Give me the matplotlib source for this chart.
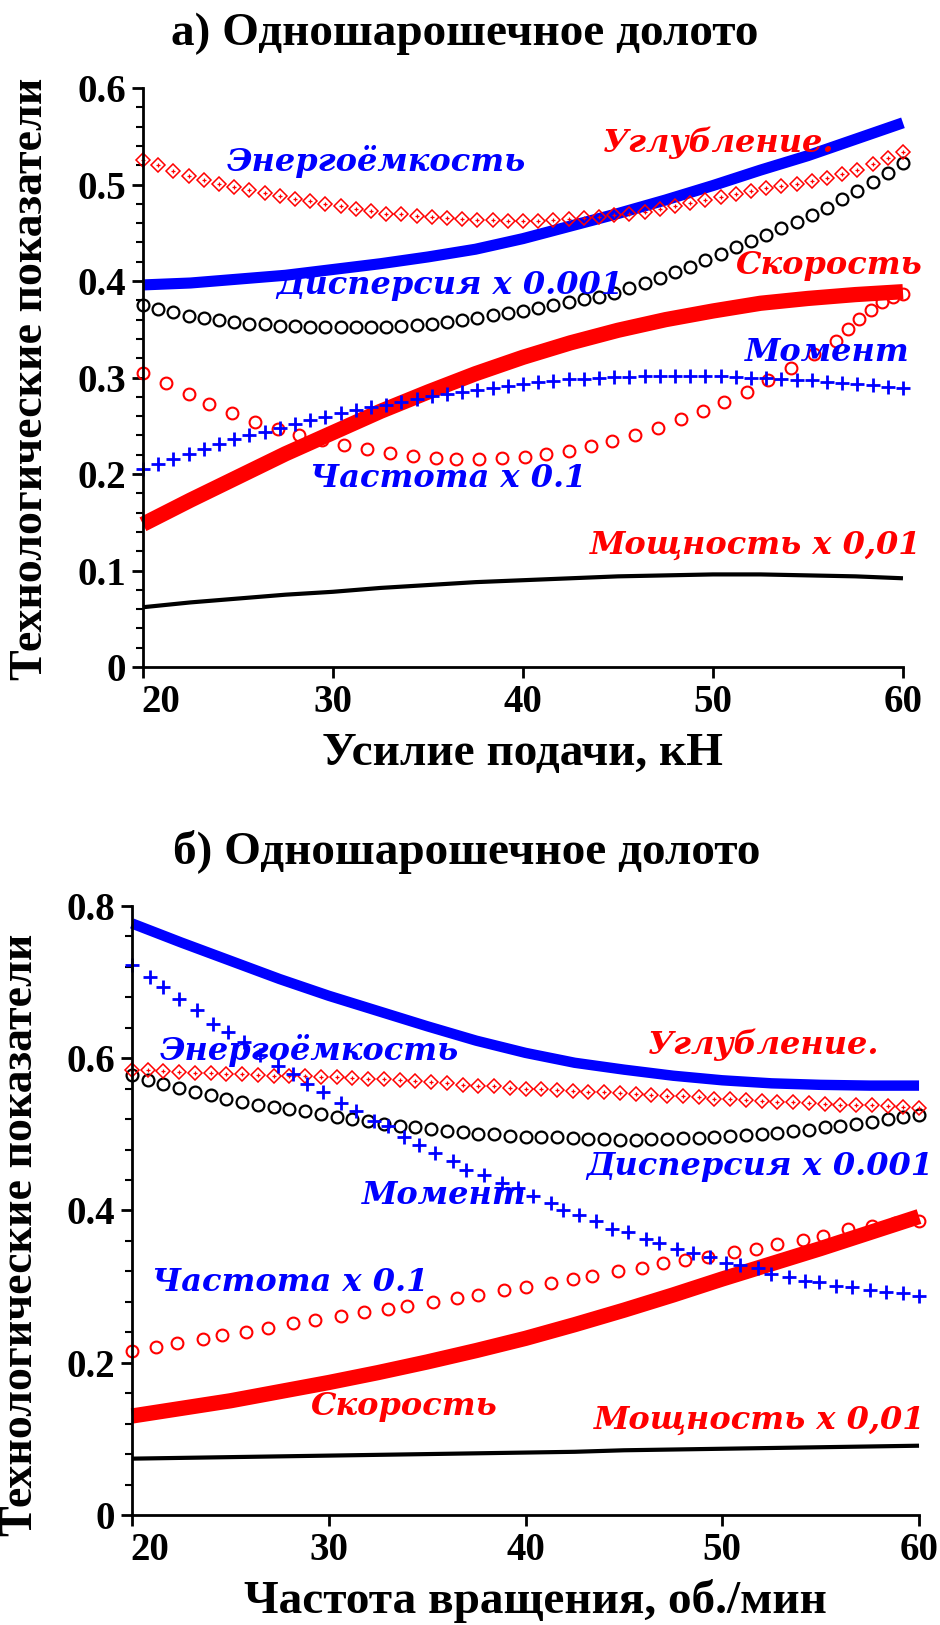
import numpy as np
import matplotlib

matplotlib.use("Agg")
import matplotlib.pyplot as plt
from matplotlib.ticker import MultipleLocator, FixedLocator
from matplotlib.transforms import ScaledTranslation

RED = "#ff0000"
BLUE = "#0000ff"

plt.rcParams["font.family"] = ["Liberation Serif", "DejaVu Serif"]
plt.rcParams["font.weight"] = "bold"

# sample positions (x values) shared by the evenly sampled series
x_line = np.linspace(20, 60, 17)
x_pts = np.linspace(20, 60, 51)

# ---- panel a: feed force, kN ----
a_energy = [0.396, 0.398, 0.402, 0.406, 0.412, 0.418, 0.425, 0.433, 0.444,
            0.457, 0.470, 0.484, 0.499, 0.515, 0.530, 0.547, 0.564]
a_speed = [0.148, 0.173, 0.197, 0.221, 0.243, 0.265, 0.285, 0.304, 0.321,
           0.336, 0.349, 0.360, 0.369, 0.377, 0.382, 0.386, 0.389]
a_power = [0.062, 0.067, 0.071, 0.075, 0.078, 0.082, 0.085, 0.088, 0.090,
           0.092, 0.094, 0.095, 0.096, 0.096, 0.095, 0.094, 0.092]
a_depth = [0.525, 0.520, 0.514, 0.509, 0.505, 0.501, 0.497, 0.494, 0.491, 0.488,
           0.485, 0.483, 0.480, 0.478, 0.475, 0.473, 0.470, 0.469, 0.467, 0.466,
           0.465, 0.464, 0.463, 0.463, 0.462, 0.462, 0.462, 0.463, 0.464, 0.465,
           0.466, 0.468, 0.470, 0.472, 0.475, 0.478, 0.481, 0.484, 0.487, 0.490,
           0.493, 0.496, 0.499, 0.501, 0.504, 0.507, 0.511, 0.515, 0.521, 0.528,
           0.534]
a_disp = [0.375, 0.371, 0.368, 0.364, 0.362, 0.360, 0.358, 0.356, 0.355, 0.353,
          0.353, 0.352, 0.352, 0.352, 0.352, 0.352, 0.352, 0.353, 0.354, 0.356,
          0.358, 0.360, 0.362, 0.365, 0.367, 0.369, 0.372, 0.375, 0.378, 0.381,
          0.384, 0.388, 0.393, 0.398, 0.403, 0.409, 0.415, 0.422, 0.428, 0.435,
          0.442, 0.448, 0.455, 0.461, 0.468, 0.476, 0.485, 0.493, 0.503, 0.512,
          0.522]
a_torque = [0.205, 0.210, 0.216, 0.221, 0.226, 0.231, 0.236, 0.240, 0.244, 0.248,
            0.252, 0.256, 0.259, 0.263, 0.266, 0.269, 0.272, 0.275, 0.278, 0.281,
            0.283, 0.285, 0.287, 0.289, 0.291, 0.293, 0.295, 0.296, 0.298, 0.299,
            0.300, 0.301, 0.301, 0.302, 0.302, 0.302, 0.302, 0.302, 0.302, 0.301,
            0.300, 0.300, 0.299, 0.297, 0.297, 0.295, 0.294, 0.293, 0.292, 0.290,
            0.289]
a_freq_x = [20.0, 21.2, 22.4, 23.5, 24.7, 25.9, 27.1, 28.2, 29.4, 30.6, 31.8, 33.0,
            34.2, 35.4, 36.5, 37.7, 38.9, 40.1, 41.2, 42.4, 43.6, 44.7, 45.9, 47.1,
            48.3, 49.5, 50.6, 51.8, 52.9, 54.1, 55.3, 56.5, 57.1, 57.7, 58.3, 58.9,
            59.5, 60.0]
a_freq = [0.305, 0.294, 0.283, 0.273, 0.263, 0.254, 0.247, 0.241, 0.235, 0.230,
          0.226, 0.222, 0.219, 0.217, 0.216, 0.216, 0.217, 0.218, 0.221, 0.224,
          0.229, 0.234, 0.240, 0.248, 0.257, 0.265, 0.275, 0.285, 0.297, 0.310,
          0.324, 0.338, 0.350, 0.361, 0.370, 0.378, 0.384, 0.387]

# ---- panel b: rotation speed, rpm ----
b_energy = [0.777, 0.752, 0.728, 0.704, 0.682, 0.662, 0.642, 0.623, 0.607,
            0.594, 0.585, 0.577, 0.571, 0.567, 0.565, 0.564, 0.564]
b_speed = [0.130, 0.140, 0.150, 0.162, 0.174, 0.187, 0.201, 0.216, 0.232,
           0.250, 0.269, 0.289, 0.310, 0.330, 0.350, 0.371, 0.392]
b_power = [0.074, 0.075, 0.076, 0.077, 0.078, 0.079, 0.080, 0.081, 0.082,
           0.083, 0.085, 0.086, 0.087, 0.088, 0.089, 0.090, 0.091]
b_depth = [0.585, 0.584, 0.583, 0.582, 0.581, 0.580, 0.579, 0.579, 0.578, 0.577,
           0.577, 0.576, 0.575, 0.575, 0.574, 0.573, 0.573, 0.571, 0.570, 0.569,
           0.567, 0.565, 0.564, 0.563, 0.561, 0.560, 0.559, 0.558, 0.557, 0.556,
           0.555, 0.554, 0.553, 0.552, 0.551, 0.550, 0.549, 0.547, 0.546, 0.545,
           0.544, 0.543, 0.542, 0.541, 0.540, 0.539, 0.538, 0.538, 0.537, 0.536,
           0.535]
b_disp = [0.578, 0.572, 0.566, 0.561, 0.556, 0.552, 0.547, 0.543, 0.539, 0.536,
          0.533, 0.530, 0.527, 0.523, 0.520, 0.517, 0.514, 0.511, 0.509, 0.507,
          0.505, 0.503, 0.501, 0.500, 0.498, 0.497, 0.496, 0.496, 0.495, 0.494,
          0.494, 0.493, 0.493, 0.494, 0.494, 0.495, 0.495, 0.496, 0.498, 0.499,
          0.500, 0.502, 0.504, 0.506, 0.509, 0.511, 0.514, 0.516, 0.520, 0.523,
          0.526]
b_torque_x = [20.0, 20.9, 21.6, 22.4, 23.3, 24.1, 24.9, 25.7, 26.5, 27.4, 28.2, 28.9,
              29.7, 30.6, 31.4, 32.3, 33.0, 33.8, 34.6, 35.4, 36.3, 37.0, 37.9, 38.8,
              39.6, 40.4, 41.3, 41.9, 42.7, 43.6, 44.4, 45.2, 46.1, 46.8, 47.7, 48.5,
              49.4, 50.2, 50.9, 51.8, 52.5, 53.4, 54.2, 54.9, 55.8, 56.6, 57.5, 58.3,
              59.2, 60.0]
b_torque = [0.723, 0.707, 0.694, 0.678, 0.663, 0.645, 0.634, 0.621, 0.604, 0.590,
            0.579, 0.566, 0.555, 0.541, 0.531, 0.518, 0.511, 0.497, 0.486, 0.476,
            0.465, 0.453, 0.447, 0.436, 0.429, 0.419, 0.410, 0.400, 0.394, 0.386,
            0.376, 0.372, 0.363, 0.357, 0.350, 0.344, 0.339, 0.331, 0.328, 0.324,
            0.317, 0.313, 0.308, 0.306, 0.301, 0.300, 0.295, 0.293, 0.291, 0.288]
b_freq_x = [20.0, 21.2, 22.3, 23.6, 24.6, 25.8, 26.9, 28.2, 29.3, 30.6, 31.8, 33.0,
            34.0, 35.3, 36.5, 37.6, 38.9, 40.0, 41.3, 42.4, 43.4, 44.7, 45.9, 47.0,
            48.1, 49.3, 50.6, 51.7, 52.8, 54.1, 55.1, 56.4, 57.6, 58.8, 60.0]
b_freq = [0.215, 0.221, 0.226, 0.231, 0.237, 0.241, 0.245, 0.252, 0.256, 0.261,
          0.266, 0.271, 0.275, 0.280, 0.285, 0.289, 0.295, 0.299, 0.305, 0.310,
          0.314, 0.320, 0.325, 0.331, 0.335, 0.339, 0.346, 0.350, 0.356, 0.361,
          0.367, 0.375, 0.379, 0.383, 0.386]

LABEL_FONT = dict(family="DejaVu Serif", weight="heavy", style="italic",
                  fontsize=23, ha="left", va="center")


def draw_series(ax, energy, speed, power, depth, disp, torque_x, torque,
                freq_x, freq, lw_energy, lw_speed):
    ax.plot(x_line, power, color="black", lw=3, solid_capstyle="butt", clip_on=False)
    ax.plot(x_line, energy, color=BLUE, lw=lw_energy, solid_capstyle="butt",
            solid_joinstyle="round", clip_on=False)
    ax.plot(x_line, speed, color=RED, lw=lw_speed, solid_capstyle="butt",
            solid_joinstyle="round", clip_on=False)
    ax.plot(x_pts, disp, "o", ms=8.5, mfc="none", mec="black", mew=1.6, clip_on=False)
    ax.plot(x_pts, depth, "D", ms=7, mfc="none", mec=RED, mew=1.1, clip_on=False)
    ax.plot(x_pts, depth, "+", ms=3.5, mec=RED, mew=0.9, clip_on=False)
    ax.plot(freq_x, freq, "o", ms=8.5, mfc="none", mec=RED, mew=1.5, clip_on=False)
    ax.plot(torque_x, torque, "+", ms=10, mec=BLUE, mew=2, clip_on=False)


def style_axes(ax, ymax, major, minor):
    ax.set_xlim(20, 60)
    ax.set_ylim(0, ymax)
    for side in ("top", "right"):
        ax.spines[side].set_visible(False)
    ax.spines["left"].set_linewidth(2)
    ax.spines["bottom"].set_linewidth(2)
    ax.xaxis.set_major_locator(FixedLocator([20, 30, 40, 50, 60]))
    ax.yaxis.set_major_locator(MultipleLocator(major))
    ax.yaxis.set_minor_locator(MultipleLocator(minor))
    ax.tick_params(axis="both", which="major", labelsize=28, width=2, length=8, pad=4)
    ax.tick_params(axis="y", which="minor", width=1.5, length=5)
    ax.set_yticklabels(["0" if abs(v) < 1e-9 else f"{v:.1f}" for v in ax.get_yticks()])
    fig = ax.figure
    ax.get_yticklabels()[0].set_transform(
        ax.get_yticklabels()[0].get_transform()
        + ScaledTranslation(0, -0.14, fig.dpi_scale_trans))
    lab20 = ax.get_xticklabels()[0]
    lab20.set_horizontalalignment("left")
    lab20.set_transform(lab20.get_transform()
                        + ScaledTranslation(-0.02, 0, fig.dpi_scale_trans))


fig = plt.figure(figsize=(9.4, 16.25), dpi=100)
ax_a = fig.add_axes([0.1521, 0.5895, 0.8085, 0.3563])
ax_b = fig.add_axes([0.1404, 0.0677, 0.8373, 0.3748])

draw_series(ax_a, a_energy, a_speed, a_power, a_depth, a_disp, x_pts, a_torque,
            a_freq_x, a_freq, lw_energy=8, lw_speed=11)
style_axes(ax_a, 0.6, 0.1, 0.02)
ax_a.text(24.4, 0.524, "Энергоёмкость", color=BLUE, **LABEL_FONT)
ax_a.text(44.2, 0.543, "Углубление.", color=RED, **LABEL_FONT)
ax_a.text(27.0, 0.395, "Дисперсия x 0.001", color=BLUE, **LABEL_FONT)
ax_a.text(51.2, 0.416, "Скорость", color=RED, **LABEL_FONT)
ax_a.text(51.7, 0.326, "Момент", color=BLUE, **LABEL_FONT)
ax_a.text(28.8, 0.195, "Частота x 0.1", color=BLUE, **LABEL_FONT)
ax_a.text(43.5, 0.126, "Мощность x 0,01", color=RED, **LABEL_FONT)

draw_series(ax_b, b_energy, b_speed, b_power, b_depth, b_disp, b_torque_x, b_torque,
            b_freq_x, b_freq, lw_energy=7.5, lw_speed=11)
style_axes(ax_b, 0.8, 0.2, 0.04)
ax_b.text(21.4, 0.610, "Энергоёмкость", color=BLUE, **LABEL_FONT)
ax_b.text(46.2, 0.618, "Углубление.", color=RED, **LABEL_FONT)
ax_b.text(43.1, 0.458, "Дисперсия x 0.001", color=BLUE, **LABEL_FONT)
ax_b.text(31.7, 0.419, "Момент", color=BLUE, **LABEL_FONT)
ax_b.text(21.0, 0.306, "Частота x 0.1", color=BLUE, **LABEL_FONT)
ax_b.text(29.1, 0.143, "Скорость", color=RED, **LABEL_FONT)
ax_b.text(43.5, 0.125, "Мощность x 0,01", color=RED, **LABEL_FONT)

fig.text(0.494, 0.979, "а) Одношарошечное долото", fontsize=34, ha="center", va="center")
fig.text(0.496, 0.4757, "б) Одношарошечное долото", fontsize=34, ha="center", va="center")
fig.text(0.556, 0.536, "Усилие подачи, кН", fontsize=34, ha="center", va="center")
fig.text(0.570, 0.0148, "Частота вращения, об./мин", fontsize=34, ha="center", va="center")
fig.text(0.033, 0.767, "Технологические показатели", fontsize=33, rotation=90,
         ha="center", va="center")
fig.text(0.022, 0.240, "Технологические показатели", fontsize=33, rotation=90,
         ha="center", va="center")

fig.savefig("out.png", dpi=100)
